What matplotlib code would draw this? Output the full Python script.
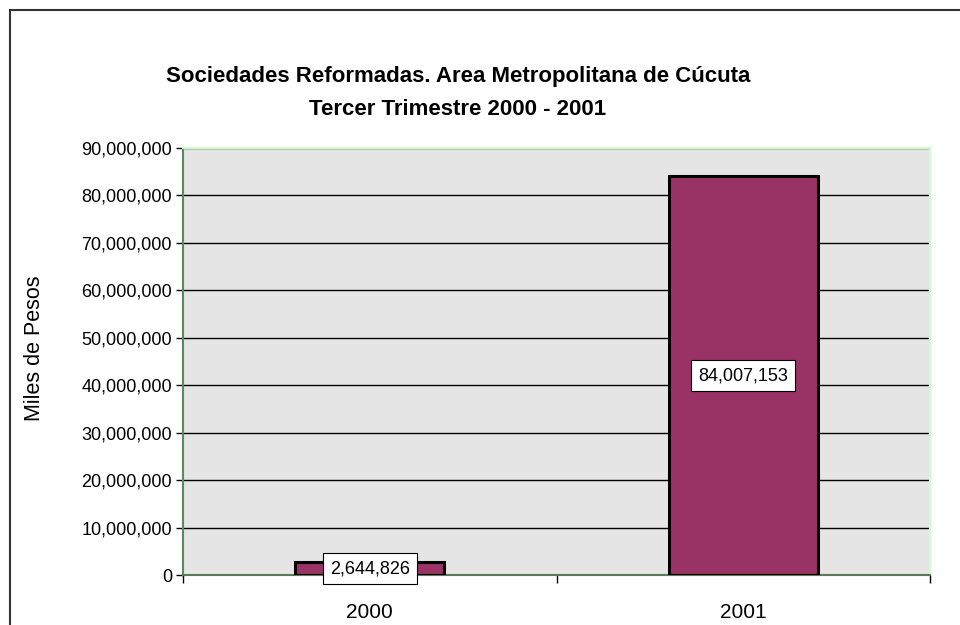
import matplotlib
matplotlib.use("Agg")
import matplotlib.pyplot as plt
from matplotlib.lines import Line2D
from matplotlib.ticker import FuncFormatter, MultipleLocator

categories = ["2000", "2001"]
values = [2644826, 84007153]
title = "Sociedades Reformadas. Area Metropolitana de Cúcuta\nTercer Trimestre 2000 - 2001"
ylabel = "Miles de Pesos"

plt.rcParams['font.family'] = ['Liberation Sans', 'DejaVu Sans']

W, H = 960, 625
fig = plt.figure(figsize=(W/100, H/100), dpi=100)
ax = fig.add_axes([183/W, 1-575/H, (930-183)/W, (575-148)/H])

ax.set_facecolor('#E5E5E5')
x = list(range(len(categories)))
bars = ax.bar(x, values, width=0.4, color='#993366', edgecolor='black', linewidth=2.2, zorder=3)
ax.set_xlim(-0.5, 1.5)
ax.set_ylim(0, 90000000)
ax.yaxis.set_major_locator(MultipleLocator(10000000))
ax.yaxis.set_major_formatter(FuncFormatter(lambda v, p: f"{int(v):,}"))
ax.grid(axis='y', color='black', linewidth=1, zorder=1)
ax.set_axisbelow(True)

ax.set_xticks(x)
ax.set_xticklabels(categories)
ax.tick_params(axis='x', length=0, labelsize=15, pad=20)
ax.set_xticks([-0.5, 0.5, 1.5], minor=True)
ax.tick_params(axis='x', which='minor', length=6, width=1, color='black', direction='out')
ax.tick_params(axis='y', length=5, width=1, color='black', direction='out', labelsize=13, pad=3)

ax.spines['top'].set_color('#CCFFCC')
ax.spines['right'].set_color('#CCFFCC')
ax.spines['left'].set_color('#5A8A5A')
ax.spines['bottom'].set_color('#5A7A5A')
for s in ax.spines.values():
    s.set_linewidth(1.5)

for xi, v in zip(x, values):
    ax.text(xi, v/2, f"{v:,}", ha='center', va='center', fontsize=13, zorder=5,
            bbox=dict(boxstyle='square,pad=0.4', facecolor='white', edgecolor='black', linewidth=0.8))

fig.text(458/W, 1-93/H, title, ha='center', va='center', fontsize=16, fontweight='bold', linespacing=1.75)
fig.text(35/W, 1-348/H, ylabel, rotation=90, ha='center', va='center', fontsize=15.5)

fig.add_artist(Line2D([10/W, 10/W], [0, 1-10/H], color='#333333', linewidth=1.5, transform=fig.transFigure))
fig.add_artist(Line2D([10/W, 1], [1-10/H, 1-10/H], color='#333333', linewidth=1.5, transform=fig.transFigure))

fig.savefig("out.png", dpi=100)
